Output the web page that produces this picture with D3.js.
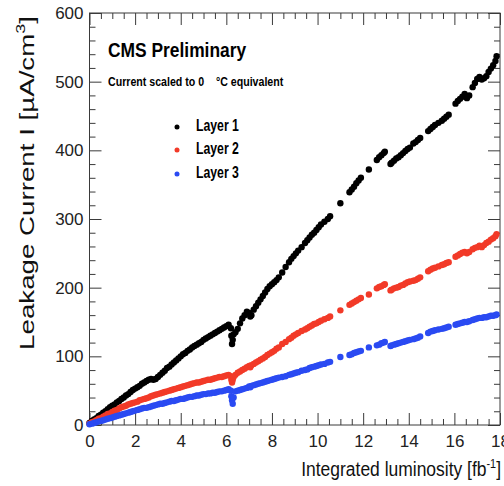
<!DOCTYPE html>
<html><head><meta charset="utf-8">
<script src="https://cdn.jsdelivr.net/npm/d3@7"></script>
<style>body{margin:0;background:#fff}</style>
</head><body>
<svg id="c" width="504" height="486" xmlns="http://www.w3.org/2000/svg"></svg>
<script>
// Integrated luminosity [fb^-1] for each measurement (shared by all layers)
const lumi = [
 0.0,0.1,0.2,0.3,0.4,0.5,0.6,0.7,0.8,0.9,1.0,1.1,1.2,1.3,1.4,1.5,1.6,1.7,1.8,1.9,
 2.0,2.1,2.2,2.3,2.4,2.5,2.6,2.7,2.8,2.9,3.0,3.1,3.2,3.3,3.4,3.5,3.6,3.7,3.8,3.9,
 4.0,4.1,4.2,4.3,4.4,4.5,4.6,4.7,4.8,4.9,5.0,5.1,5.2,5.3,5.4,5.5,5.6,5.7,5.8,5.9,
 6.0,6.1,6.2,
 6.22,6.25,6.28,6.32,6.4,6.5,6.6,6.7,6.8,6.9,7.0,7.05,7.1,7.2,7.3,7.4,7.5,7.6,7.7,7.8,7.9,8.0,8.1,8.2,8.3,
 8.45,8.6,8.75,8.85,8.95,9.05,9.15,9.3,9.45,9.55,9.65,9.75,9.85,9.95,10.05,10.15,10.3,10.45,10.55,
 11.0,11.4,11.5,11.6,11.7,11.8,11.9,
 12.25,12.6,12.7,12.8,12.9,12.95,
 13.2,13.25,13.35,13.45,13.55,13.65,13.75,13.85,13.95,14.05,
 14.2,14.3,14.4,14.5,
 14.85,14.95,15.05,15.15,15.3,15.45,15.55,15.65,15.75,
 16.05,16.15,16.25,16.35,16.45,16.55,16.65,16.8,16.9,
 17.0,17.1,17.2,17.3,17.4,17.5,17.6,17.7,17.8,17.85
];
// Leakage current [uA/cm^3]
const layer1 = [
 3,6,8,10,13,15,18,20,23,26,28,30,33,35,38,40,43,45,48,51,
 53,55,57,60,62,64,66,67,66,67,70,73,76,79,83,85,88,91,94,97,
 100,103,105,108,110,113,115,117,119,121,124,126,128,130,132,134,136,138,140,142,
 144,146,141,
 130,118,124,132,135,140,148,155,160,165,163,158,160,168,173,178,183,188,193,198,202,205,208,211,215,
 222,230,237,242,246,250,254,259,265,269,273,277,280,284,288,292,296,300,304,
 323,339,343,347,352,356,360,
 372,386,390,393,396,398,
 380,382,385,388,390,393,396,399,402,404,
 410,412,415,418,
 428,431,434,437,440,443,446,449,452,
 468,472,475,478,482,476,480,492,498,
 504,507,503,505,508,514,519,524,530,537
];
const layer2 = [
 2,4,5,7,9,10,12,14,16,17,19,21,22,24,26,27,28,30,31,32,
 33,34,36,37,38,39,40,42,43,44,45,46,47,48,49,50,51,52,53,54,
 55,56,57,58,59,60,61,62,62,63,64,65,66,66,67,68,69,70,70,71,
 72,73,71,
 66,62,66,70,73,76,78,80,82,84,86,84,87,89,91,93,95,97,99,102,104,106,108,111,113,
 118,121,125,127,130,132,134,137,139,141,143,145,147,148,150,152,154,156,158,
 167,175,177,179,181,183,185,
 190,199,201,202,204,205,
 196,197,199,200,201,203,204,206,208,209,
 210,211,213,215,
 224,226,228,229,231,233,234,236,237,
 245,247,249,251,252,250,252,256,258,
 259,261,259,262,265,267,270,272,275,278
];
const layer3 = [
 1,2,3,4,5,6,7,8,9,10,11,12,13,14,15,16,17,18,19,20,
 21,22,23,24,25,25,26,27,28,29,30,31,31,32,33,34,35,35,36,37,
 38,38,39,40,41,41,42,43,43,44,45,45,46,46,47,47,48,49,49,50,
 51,52,50,
 42,36,31,40,49,50,51,52,53,54,56,55,57,58,59,60,61,62,63,64,65,66,67,68,69,
 70,71,73,74,75,76,77,79,80,81,83,84,85,86,87,88,89,91,92,
 99,102,103,105,106,107,108,
 113,116,117,119,120,121,
 115,116,117,118,119,120,121,122,123,124,
 125,126,127,129,
 134,136,137,138,139,140,141,142,143,
 146,147,148,149,150,150,151,153,154,
 155,156,156,157,157,158,159,159,160,161
];
const xTicks = [0,2,4,6,8,10,12,14,16,18];
const xMinor = [0.5,1,1.5,2.5,3,3.5,4.5,5,5.5,6.5,7,7.5,8.5,9,9.5,10.5,11,11.5,12.5,13,13.5,14.5,15,15.5,16.5,17,17.5];
const yTicks = [0,100,200,300,400,500,600];
const yMinor = [20,40,60,80,120,140,160,180,220,240,260,280,320,340,360,380,420,440,460,480,520,540,560,580];
const seriesNames = ["Layer 1","Layer 2","Layer 3"];
const seriesColors = ["#000000","#f23a28","#2a4af2"];
const seriesData = [layer1, layer2, layer3];

const svg = d3.select("#c");
const L = 89.5, R = 500, T = 13, B = 425;
const x = d3.scaleLinear().domain([0,18]).range([L,R]);
const y = d3.scaleLinear().domain([0,600]).range([B,T]);
const tickFont = "'Liberation Sans Narrow','Arial Narrow','Liberation Sans',sans-serif";
const axisColor = "#3a3a3a";

function styleAxis(g){
  g.attr("color", axisColor).attr("font-family", tickFont).attr("font-size", 17);
  g.select(".domain").remove();
  g.selectAll("text").attr("fill","#222");
}
// minor ticks
svg.append("g").attr("transform",`translate(0,${B})`).call(d3.axisBottom(x).tickValues(xMinor).tickSize(-6).tickFormat("")).call(styleAxis);
svg.append("g").attr("transform",`translate(0,${T})`).call(d3.axisTop(x).tickValues(xMinor).tickSize(-6).tickFormat("")).call(styleAxis);
svg.append("g").attr("transform",`translate(${L},0)`).call(d3.axisLeft(y).tickValues(yMinor).tickSize(-6).tickFormat("")).call(styleAxis);
svg.append("g").attr("transform",`translate(${R},0)`).call(d3.axisRight(y).tickValues(yMinor).tickSize(-6).tickFormat("")).call(styleAxis);
// major ticks
svg.append("g").attr("transform",`translate(0,${B})`).call(d3.axisBottom(x).tickValues(xTicks).tickSize(-12).tickPadding(10).tickFormat(d3.format("d"))).call(styleAxis);
svg.append("g").attr("transform",`translate(0,${T})`).call(d3.axisTop(x).tickValues(xTicks).tickSize(-12).tickFormat("")).call(styleAxis);
svg.append("g").attr("transform",`translate(${L},0)`).call(d3.axisLeft(y).tickValues(yTicks).tickSize(-12).tickPadding(6).tickFormat(d3.format("d"))).call(styleAxis);
svg.append("g").attr("transform",`translate(${R},0)`).call(d3.axisRight(y).tickValues(yTicks).tickSize(-12).tickFormat("")).call(styleAxis);

// frame
svg.append("rect").attr("x",L).attr("y",T).attr("width",R-L).attr("height",B-T)
  .attr("fill","none").attr("stroke",axisColor).attr("stroke-width",1);

// data
seriesData.forEach((vals,k)=>{
  svg.append("g").attr("fill",seriesColors[k])
    .selectAll("circle").data(lumi.map((l,i)=>[l,vals[i]])).join("circle")
    .attr("cx",d=>x(d[0])).attr("cy",d=>y(d[1])).attr("r",3.2);
});

// fitted text helper
function fitText(parent, str, tx, ty, width, size, weight, anchor){
  const g = parent.append("g");
  const t = g.append("text").text(str).attr("font-family","'Liberation Sans',Arial,sans-serif")
    .attr("font-size",size).attr("font-weight",weight).attr("text-anchor",anchor).attr("fill","#000")
    .style("white-space","pre");
  const bw = t.node().getBBox().width;
  g.attr("transform",`translate(${tx},${ty}) scale(${width/bw},1)`);
  return t;
}
fitText(svg,"CMS Preliminary",108,57,139,20,"bold","start");
fitText(svg,"Current scaled to 0\u00a0\u00a0\u00a0\u00a0°C equivalent",108,86,176,13,"bold","start");
seriesNames.forEach((n,i)=>{
  const ly = [131,154,178][i];
  svg.append("circle").attr("cx",177).attr("cy",ly-4).attr("r",2.5).attr("fill",seriesColors[i]);
  fitText(svg,n,196,ly,43,16,"bold","start");
});
// x title with superscript
(function(){
  const g = svg.append("g");
  const t = g.append("text").attr("font-family","'Liberation Sans',Arial,sans-serif")
    .attr("font-size",21).attr("text-anchor","end").attr("fill","#111");
  t.append("tspan").text("Integrated luminosity [fb");
  t.append("tspan").text("-1").attr("font-size",13).attr("dy",-8);
  t.append("tspan").text("]").attr("dy",8);
  const bw = t.node().getBBox().width;
  g.attr("transform",`translate(501,476) scale(${200/bw},1)`);
})();
// y title
(function(){
  const g = svg.append("g");
  const t = g.append("text").attr("font-family","'Liberation Sans',Arial,sans-serif")
    .attr("font-size",20).attr("text-anchor","end").attr("fill","#111");
  t.append("tspan").text("Leakage Current I [µA/cm");
  t.append("tspan").text("3").attr("font-size",13).attr("dy",-9);
  t.append("tspan").text("]").attr("dy",9);
  const bw = t.node().getBBox().width;
  g.attr("transform",`translate(34,16) rotate(-90) scale(${334/bw},1)`);
})();
</script>
</body></html>
